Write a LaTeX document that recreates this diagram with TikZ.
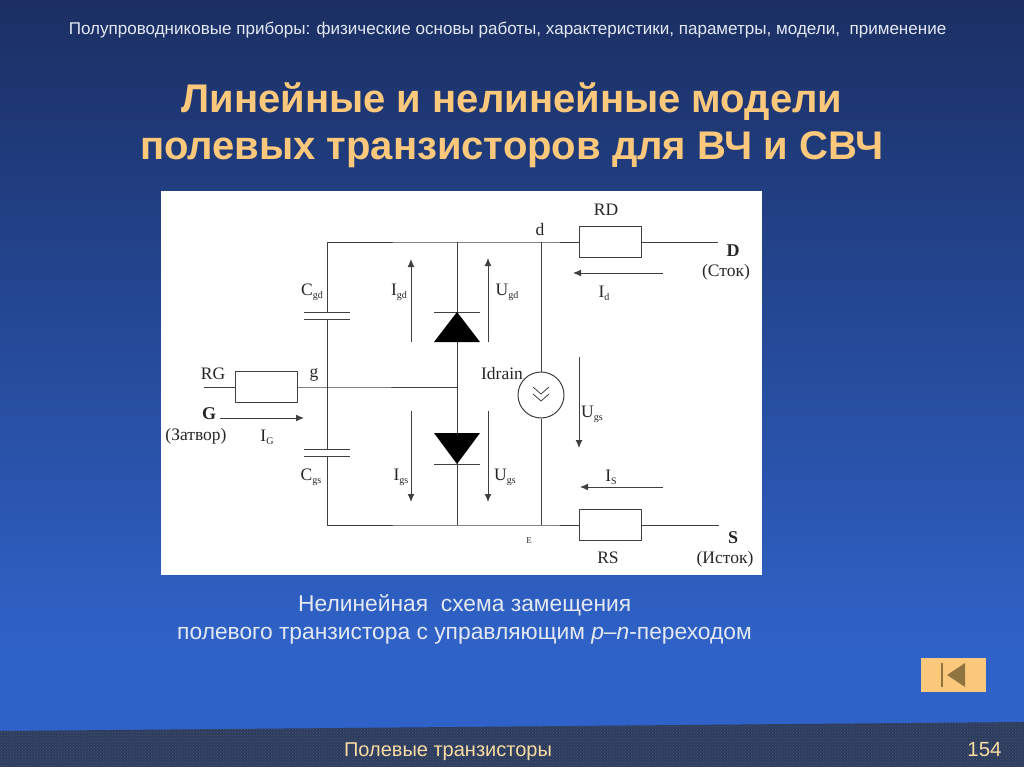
\documentclass[tikz,border=0pt]{standalone}
\usepackage{fontspec}
\setmainfont{Liberation Sans}
\newfontfamily\schemfont{Liberation Serif}
\usetikzlibrary{arrows.meta,patterns}
\definecolor{slidetop}{HTML}{1B2F63}
\definecolor{slidelow}{HTML}{2F62C8}
\definecolor{bandfill}{HTML}{2D3B5C}
\definecolor{bandspot}{HTML}{4A587A}
\definecolor{titlecol}{HTML}{FCC97C}
\definecolor{footcol}{HTML}{F7DCA4}
\definecolor{headcol}{HTML}{E3E8F2}
\definecolor{wirecol}{HTML}{404040}
\definecolor{btnglyph}{HTML}{8F7440}
\newcommand{\lbl}[2]{#1\raisebox{-3pt}{\fontsize{10}{10}\selectfont #2}}
\tikzset{
  wire/.style={draw=wirecol, line width=1pt},
  flow/.style={draw=wirecol, line width=1pt, -{Latex[length=8pt,width=7pt]}},
  plate/.style={draw=wirecol, line width=1pt},
  resbox/.style={draw=wirecol, line width=1pt, fill=white, minimum width=62pt, minimum height=31pt, inner sep=0pt},
  srcbox/.style={circle, draw=wirecol, line width=1pt, fill=white, minimum size=46pt, inner sep=0pt},
  schem/.style={text=black!85, inner sep=0pt, font=\schemfont\fontsize{17.5}{20}\selectfont},
  schemb/.style={schem, font=\schemfont\bfseries\fontsize{18}{20}\selectfont},
  titletext/.style={text=titlecol, inner sep=0pt, font=\bfseries\fontsize{40}{46}\selectfont},
  capttext/.style={text=headcol, inner sep=0pt, anchor=west, font=\fontsize{22.8}{26}\selectfont},
}
\begin{document}
\begin{tikzpicture}[x=1pt,y=-1pt]
        \useasboundingbox (0,0) rectangle (1024,767);
        %background
        \shade[top color=slidetop, bottom color=slidelow, middle color=slidetop!50!slidelow] (0,0) rectangle (1024,650);
        \fill[slidelow] (0,650) rectangle (1024,767);
        \fill[bandfill] (0,731) -- (1024,722) -- (1024,767) -- (0,767) -- cycle;
        \fill[pattern=crosshatch dots, pattern color=bandspot] (0,731) -- (1024,722) -- (1024,767) -- (0,767) -- cycle;

        %texts of the slide
        \node[text=headcol, inner sep=0pt, font=\fontsize{17.05}{20}\selectfont] (header) at (507.5,30) {Полупроводниковые приборы: физические основы работы, характеристики, параметры, модели,\ \ применение};
        \node[titletext] (titlea) at (512,102) {Линейные и нелинейные модели};
        \node[titletext] (titleb) at (512,150) {полевых транзисторов для ВЧ и СВЧ};
        \node[capttext] (capta) at (298,605) {Нелинейная\ \ схема замещения};
        \node[capttext] (captb) at (177,636) {полевого транзистора с управляющим \textit{p}–\textit{n}-переходом};
        \node[text=footcol, inner sep=0pt, font=\fontsize{20}{23}\selectfont] (footer) at (448,752) {Полевые транзисторы};
        \node[text=footcol, inner sep=0pt, font=\fontsize{20.5}{23}\selectfont] (pageno) at (984.5,750) {154};

        %back button
        \fill[titlecol] (921,658) rectangle (986,692);
        \fill[btnglyph] (941,663) rectangle (943,687);
        \fill[btnglyph] (947,675) -- (965,663) -- (965,687) -- cycle;

        %white panel
        \fill[white] (161,191) rectangle (762,575);

        %junctions
        \coordinate (tl) at (327,242);
        \coordinate (tm) at (457,242);
        \coordinate (tr) at (541,242);
        \coordinate (bl) at (327,525);
        \coordinate (bm) at (457,525);
        \coordinate (br) at (541,525);
        \coordinate (gj) at (327,387);
        \coordinate (gm) at (457,387);
        \coordinate (gin) at (204,387);
        \coordinate (dout) at (718,242);
        \coordinate (sout) at (719,525);
        \coordinate (cgda) at (327,312);
        \coordinate (cgdb) at (327,319);
        \coordinate (cgsa) at (327,449);
        \coordinate (cgsb) at (327,456);

        %elements
        \node[resbox] (rg) at (266,387) {};
        \node[resbox] (rd) at (610,242) {};
        \node[resbox] (rs) at (610,525) {};
        \node[srcbox] (idrain) at (541,395) {};

        %wires
        \draw[wire] (gin) -- (rg);
        \draw[wire] (rg) -- (gj) -- (gm);
        \draw[wire] (tl) -- (tm) -- (tr) -- (rd);
        \draw[wire] (rd) -- (dout);
        \draw[wire] (bl) -- (bm) -- (br) -- (rs);
        \draw[wire] (rs) -- (sout);
        \draw[wire] (tr) -- (idrain);
        \draw[wire] (idrain) -- (br);
        \draw[wire] (tm) -- (bm);
        \draw[wire] (tl) -- (cgda);
        \draw[wire] (cgdb) -- (cgsa);
        \draw[wire] (cgsb) -- (bl);

        %capacitors
        \draw[plate] (304,312) -- (350,312);
        \draw[plate] (304,319) -- (350,319);
        \draw[plate] (304,449) -- (350,449);
        \draw[plate] (304,456) -- (350,456);

        %diodes
        \draw[plate] (434,312) -- (480,312);
        \fill[black] (457,312) -- (434,342) -- (480,342) -- cycle;
        \draw[plate] (434,464) -- (480,464);
        \fill[black] (457,464) -- (434,433) -- (480,433) -- cycle;

        %double arrow of the source
        \draw[wirecol, line width=0.8pt] (533,387) -- (541,394) -- (549,387);
        \draw[wirecol, line width=0.8pt] (533,394) -- (541,401) -- (549,394);

        %arrows
        \draw[flow] (220,418) -- (304,418);
        \draw[flow] (411,342) -- (411,259);
        \draw[flow] (411,411) -- (411,502);
        \draw[flow] (488,342) -- (488,258);
        \draw[flow] (488,411) -- (488,502);
        \draw[flow] (579,357) -- (579,448);
        \draw[flow] (663,273) -- (573,273);
        \draw[flow] (663,487) -- (580,487);

        %labels
        \node[schem] (lrg) at (213,374) {RG};
        \node[schem] (lg) at (314,375) {g};
        \node[schemb] (lgg) at (209,414) {G};
        \node[schem] (lzat) at (196,436) {(Затвор)};
        \node[schem] (lig) at (267,437) {\lbl{I}{G}};
        \node[schem] (lcgd) at (312,292) {\lbl{C}{gd}};
        \node[schem] (lcgs) at (311,477) {\lbl{C}{gs}};
        \node[schem] (ligd) at (399,292) {\lbl{I}{gd}};
        \node[schem] (ligs) at (401,477) {\lbl{I}{gs}};
        \node[schem] (lugd) at (507,292) {\lbl{U}{gd}};
        \node[schem] (lugs) at (505,477) {\lbl{U}{gs}};
        \node[schem] (lidr) at (502,374) {Idrain};
        \node[schem] (ld) at (540,230) {d};
        \node[schem] (lrd) at (606,210) {RD};
        \node[schemb] (ldd) at (733,251) {D};
        \node[schem] (lstok) at (726,272) {(Сток)};
        \node[schem] (lid) at (604,293) {\lbl{I}{d}};
        \node[schem] (lugs2) at (592,414) {\lbl{U}{gs}};
        \node[schem] (lis) at (611,477) {\lbl{I}{S}};
        \node[schem, font=\schemfont\fontsize{9}{10}\selectfont] (le) at (529,541) {E};
        \node[schem] (lrs) at (608,558) {RS};
        \node[schemb] (lss) at (733,538) {S};
        \node[schem] (list) at (725,559) {(Исток)};
    \end{tikzpicture}
\end{document}
